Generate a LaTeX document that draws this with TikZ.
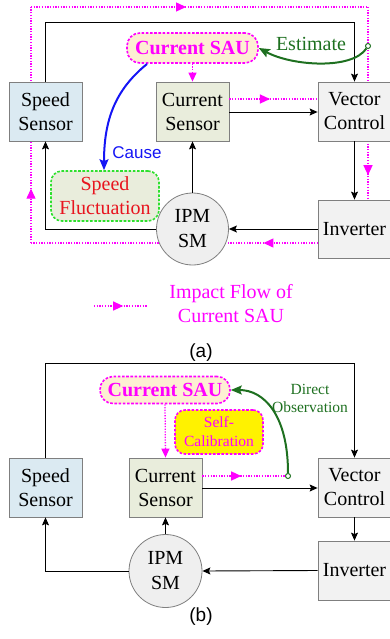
\documentclass[tikz,border=0pt]{standalone}
\usepackage{fontspec}
\setmainfont{Liberation Serif}
\newfontfamily\arialf{Liberation Sans}
\usetikzlibrary{arrows.meta,decorations.markings,calc}
\definecolor{mag}{HTML}{FF00FF}
\definecolor{boxgray}{HTML}{7F7F7F}
\definecolor{ssfill}{HTML}{DBEAF2}
\definecolor{csfill}{HTML}{E9EDDC}
\definecolor{vcfill}{HTML}{F2F2F2}
\definecolor{ipmfill}{HTML}{EFEFEF}
\definecolor{saufill}{HTML}{FDEFD3}
\definecolor{dgreen}{HTML}{1E7020}
\definecolor{lgreen}{HTML}{2EE02E}
\definecolor{cblue}{HTML}{1515F5}
\definecolor{fred}{HTML}{E8141E}
\begin{document}
\begin{tikzpicture}[x=1pt,y=-1pt,
  blk/.style={draw=boxgray, line width=0.8pt, minimum width=73pt, minimum height=59pt, inner sep=0pt, align=center, font=\fontsize{20}{24}\selectfont},
  motor/.style={circle, draw=boxgray, line width=0.8pt, fill=ipmfill, minimum size=72pt, inner sep=0pt, align=center, font=\fontsize{20}{25}\selectfont},
  conn/.style={draw=black, line width=0.9pt, -{Stealth[length=8pt,width=7pt,inset=1.5pt]}},
  imp/.style={draw=mag, line width=1.3pt, dash pattern=on 1.3pt off 1.4pt},
  impend/.style={imp, -{Triangle[length=9pt,width=8pt]}},
  midarr/.style={postaction={decorate,decoration={markings,mark=at position #1 with {\arrow{Triangle[length=10pt,width=9pt]}}}}},
  saubox/.style={draw=mag, fill=saufill, line width=1.6pt, dash pattern=on 2.6pt off 1.6pt, rounded corners=13pt, inner sep=0pt, text=mag, font=\fontsize{20}{24}\selectfont\bfseries},
  curvearr/.style={line width=2pt, -{Stealth[length=11pt,width=9pt,inset=2pt]}},
  lbl/.style={inner sep=0pt, align=center}
]
\useasboundingbox (0,0) rectangle (389,639);

% ================= (a) =================
% impact flow loop (behind the blocks)
\coordinate (la) at (31,243);
\coordinate (lb) at (31,7);
\coordinate (lc) at (368,7);
\coordinate (ld) at (368,82);
\coordinate (le) at (368,141);
\coordinate (lf) at (368,200);
\coordinate (lg) at (318,243);
\draw[imp, midarr=0.23] (la) -- (lb);
\draw[imp, midarr=0.46] (lb) -- (lc);
\draw[imp] (lc) -- (ld);
\draw[imp, midarr=0.58] (le) -- (lf);
\draw[imp, midarr=0.19] (lg) -- (la);

\node[blk, fill=ssfill] (ss) at (45.5,111.5) {Speed\\Sensor};
\node[blk, fill=csfill] (cs) at (192.5,111.5) {Current\\Sensor};
\node[blk, fill=vcfill] (vc) at (354.5,111.5) {Vector\\Control};
\node[blk, fill=vcfill, minimum height=58pt] (inv) at (354.5,229) {Inverter};
\node[motor] (ipm) at (192.5,229) {IPM\\SM};
\node[saubox, minimum width=131pt, minimum height=30pt] (sau) at (192.5,48) {Current SAU};
\node[draw=lgreen, fill=csfill, line width=1.6pt, dash pattern=on 2.6pt off 1.6pt, rounded corners=11pt, minimum width=108pt, minimum height=50pt, inner sep=0pt, align=center, text=fred, font=\fontsize{20}{24}\selectfont] (sf) at (105,196) {Speed\\Fluctuation};

% black signal flow
\coordinate (y112) at (0,112);
\coordinate (y99) at (0,99);
\draw[conn] (ss.north) -- ++(0,-59) -| (vc.north);
\draw[conn] (cs.east |- y112) -- (vc.west |- y112);
\draw[conn] (vc.south) -- (inv.north);
\draw[conn] (inv.west) -- (ipm.east);
\draw[conn] (ipm.north) -- (cs.south);
\draw[conn] (ipm.west) -| (ss.south);

% impact flow inside
\draw[impend] (sau.south) -- (cs.north);
\draw[imp, midarr=0.46] (cs.east |- y99) -- (vc.west |- y99);

% estimate
\node[circle, draw=dgreen, fill=white, line width=1pt, minimum size=5pt, inner sep=0pt] (est) at (368,46) {};
\draw[dgreen, curvearr] (est) .. controls (352,70) and (292,66) .. (sau.east);
\node[lbl, text=dgreen, font=\fontsize{20}{24}\selectfont] (estl) at (311,44) {Estimate};

% cause
\draw[cblue, curvearr] (147,64) .. controls (115,90) and (104,120) .. (sf.north -| 104,0);
\node[lbl, text=cblue, font=\arialf\fontsize{17}{20}\selectfont] (causel) at (137,153) {Cause};

% legend
\coordinate (lg1) at (94,306);
\coordinate (lg2) at (147,306);
\draw[imp, midarr=0.55] (lg1) -- (lg2);
\node[lbl, text=mag, font=\fontsize{20}{24}\selectfont] (legl) at (231,304) {Impact Flow of\\Current SAU};

\node[lbl, font=\arialf\fontsize{19}{22}\selectfont] (capa) at (201,353) {(a)};

% ================= (b) =================
\node[blk, fill=ssfill] (ss2) at (45.5,487.5) {Speed\\Sensor};
\node[blk, fill=csfill] (cs2) at (165.5,487.5) {Current\\Sensor};
\node[blk, fill=vcfill] (vc2) at (354.5,487.5) {Vector\\Control};
\node[blk, fill=vcfill] (inv2) at (354.5,570.5) {Inverter};
\node[motor, minimum size=73pt] (ipm2) at (165.5,571) {IPM\\SM};
\node[saubox, minimum width=130pt, minimum height=27pt] (sau2) at (165,390) {Current SAU};
\node[draw=mag, fill=yellow, line width=1.6pt, dash pattern=on 2.6pt off 1.6pt, rounded corners=10pt, minimum width=88pt, minimum height=44pt, inner sep=0pt, align=center, text=mag, font=\fontsize{15.5}{19}\selectfont] (scal) at (219,432) {Self-\\Calibration};

\coordinate (y488) at (0,488);
\coordinate (y476) at (0,476);
\draw[conn] (ss2.north) -- ++(0,-94) -| (vc2.north);
\draw[conn] (cs2.east |- y488) -- (vc2.west |- y488);
\draw[conn] (vc2.south) -- (inv2.north);
\draw[conn] (inv2.west) -- (ipm2.east);
\draw[conn] (ipm2.north) -- (cs2.south);
\draw[conn] (ipm2.west) -| (ss2.south);

\draw[impend] (sau2.south) -- (cs2.north);
\node[circle, draw=dgreen, fill=white, line width=1pt, minimum size=5pt, inner sep=0pt] (obs) at (288,476) {};
\draw[imp, midarr=0.47] (cs2.east |- y476) -- (obs.west);
\draw[dgreen, curvearr] (obs.north) .. controls (288,415) and (264,390) .. (sau2.east);
\node[lbl, text=dgreen, font=\fontsize{15.5}{18}\selectfont] (obsl) at (310,398) {Direct\\Observation};

\node[lbl, font=\arialf\fontsize{19}{22}\selectfont] (capb) at (201,617) {(b)};
\end{tikzpicture}
\end{document}
